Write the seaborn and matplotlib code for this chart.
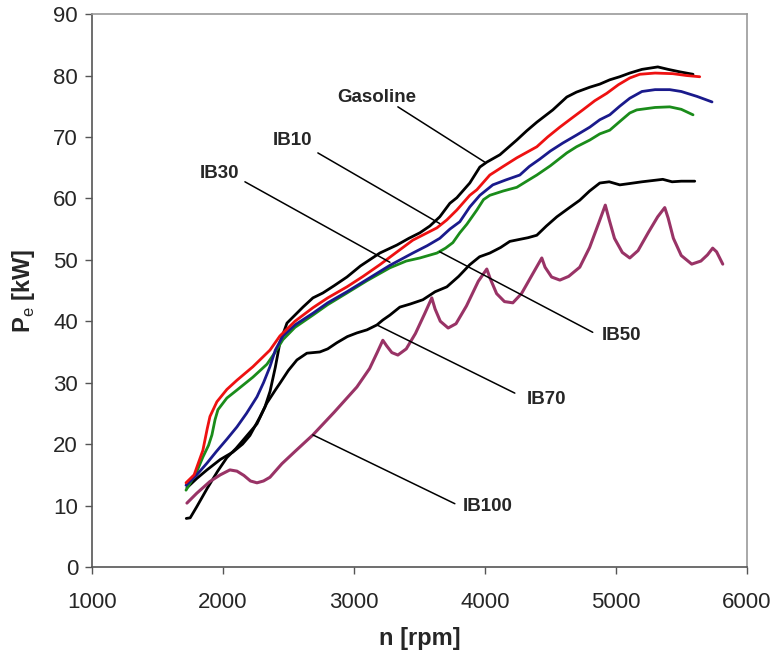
import pandas as pd
import seaborn as sns
import matplotlib.pyplot as plt

# engine speed [rpm] and effective power [kW]
gas_n = [1720, 1750, 1800, 1880, 1960, 2030, 2100, 2180, 2260, 2320, 2360, 2400, 2435, 2489, 2550,
         2611, 2687, 2763, 2850, 2947, 3050, 3198, 3328, 3420, 3504, 3580, 3656, 3733, 3786, 3885,
         3962, 4015, 4115, 4244, 4320, 4397, 4519, 4626, 4700, 4802, 4878, 4954, 5030, 5107, 5200,
         5321, 5400, 5489, 5590]
gas_p = [7.9, 8.0, 9.8, 12.8, 15.6, 17.8, 19.3, 21.3, 23.3, 26.0, 28.6, 32.5, 36.5, 39.7, 41.0,
         42.3, 43.8, 44.6, 45.8, 47.2, 49.0, 51.1, 52.4, 53.5, 54.4, 55.5, 57.0, 59.2, 60.1, 62.5,
         65.1, 65.9, 67.1, 69.5, 71.0, 72.4, 74.4, 76.5, 77.3, 78.1, 78.6, 79.3, 79.8, 80.4, 81.0,
         81.4, 81.0, 80.6, 80.2]

ib10_n = [1718, 1780, 1847, 1880, 1901, 1954, 2030, 2107, 2229, 2359, 2435, 2550, 2687, 2800, 2947,
          3070, 3198, 3330, 3450, 3634, 3710, 3786, 3885, 3939, 4038, 4140, 4244, 4397, 4480, 4573,
          4660, 4748, 4840, 4931, 5020, 5107, 5183, 5300, 5435, 5540, 5641]
ib10_p = [13.7, 15.0, 19.0, 22.5, 24.5, 26.9, 28.9, 30.4, 32.6, 35.3, 37.6, 40.0, 42.2, 43.8, 45.6,
          47.3, 49.2, 51.3, 53.2, 55.2, 56.5, 58.1, 60.5, 61.4, 63.8, 65.2, 66.6, 68.4, 70.0, 71.6,
          73.0, 74.4, 75.9, 77.1, 78.5, 79.6, 80.2, 80.4, 80.3, 80.0, 79.8]

ib30_n = [1718, 1800, 1878, 1950, 2030, 2107, 2180, 2260, 2310, 2359, 2400, 2458, 2550, 2687, 2800,
          2947, 3100, 3275, 3450, 3560, 3656, 3733, 3809, 3885, 3962, 4061, 4160, 4267, 4340, 4420,
          4500, 4595, 4700, 4802, 4878, 4954, 5030, 5107, 5200, 5300, 5412, 5500, 5620, 5735]
ib30_p = [13.3, 15.0, 16.9, 18.8, 20.8, 22.8, 25.0, 27.7, 30.0, 32.6, 35.3, 37.6, 39.4, 41.3, 43.0,
          44.8, 46.8, 49.1, 51.1, 52.3, 53.5, 55.0, 56.2, 58.6, 60.5, 62.2, 63.0, 63.8, 65.2, 66.4,
          67.7, 69.0, 70.3, 71.6, 72.8, 73.6, 75.0, 76.3, 77.4, 77.7, 77.7, 77.4, 76.6, 75.7]

ib50_n = [1718, 1800, 1847, 1890, 1916, 1940, 1962, 2030, 2107, 2229, 2336, 2400, 2458, 2550, 2687,
          2800, 2947, 3100, 3275, 3400, 3504, 3634, 3700, 3756, 3809, 3863, 3939, 3990, 4038, 4140,
          4244, 4320, 4397, 4500, 4626, 4700, 4802, 4878, 4954, 5030, 5107, 5160, 5300, 5412, 5500,
          5590]
ib50_p = [12.5, 15.5, 17.9, 19.8, 21.5, 24.0, 25.6, 27.5, 28.8, 30.9, 33.0, 35.0, 37.0, 39.0, 41.0,
          42.7, 44.6, 46.6, 48.7, 49.8, 50.3, 51.1, 51.9, 52.8, 54.4, 55.8, 58.1, 59.8, 60.5, 61.2,
          61.8, 62.8, 63.8, 65.3, 67.4, 68.4, 69.5, 70.5, 71.1, 72.5, 73.9, 74.4, 74.8, 74.9, 74.5,
          73.6]

ib70_n = [1725, 1800, 1878, 1980, 2076, 2150, 2206, 2280, 2336, 2400, 2435, 2500, 2565, 2641, 2740,
          2800, 2870, 2950, 3023, 3100, 3176, 3221, 3275, 3351, 3430, 3527, 3620, 3710, 3800, 3885,
          3960, 4038, 4120, 4191, 4260, 4330, 4397, 4470, 4550, 4640, 4725, 4800, 4878, 4950, 5031,
          5100, 5200, 5280, 5359, 5430, 5500, 5603]
ib70_p = [12.9, 14.4, 15.8, 17.5, 18.7, 20.0, 21.4, 24.3, 26.7, 28.8, 29.9, 32.0, 33.7, 34.8, 35.0,
          35.5, 36.5, 37.5, 38.1, 38.6, 39.4, 40.2, 41.0, 42.3, 42.8, 43.5, 44.8, 45.6, 47.3, 49.2,
          50.5, 51.1, 52.0, 53.0, 53.3, 53.6, 54.0, 55.5, 57.0, 58.4, 59.7, 61.2, 62.5, 62.7, 62.2,
          62.4, 62.7, 62.9, 63.1, 62.7, 62.8, 62.8]

ib100_n = [1725, 1800, 1900, 1980, 2053, 2107, 2160, 2210, 2260, 2310, 2359, 2450, 2550, 2687, 2850,
           3023, 3120, 3180, 3221, 3250, 3290, 3336, 3400, 3470, 3540, 3595, 3620, 3660, 3720, 3780,
           3860, 3950, 4015, 4040, 4090, 4150, 4214, 4280, 4360, 4435, 4460, 4510, 4573, 4640, 4725,
           4800, 4870, 4920, 4950, 4990, 5050, 5107, 5170, 5250, 5320, 5374, 5400, 5440, 5500, 5580,
           5650, 5700, 5740, 5770, 5817]
ib100_p = [10.4, 12.0, 13.9, 15.0, 15.8, 15.6, 14.9, 14.0, 13.7, 14.0, 14.6, 16.8, 18.8, 21.5, 25.2,
           29.3, 32.3, 35.0, 36.9, 36.0, 34.9, 34.5, 35.5, 38.0, 41.2, 43.8, 42.0, 40.0, 38.9, 39.6,
           42.5, 46.5, 48.5, 47.0, 44.5, 43.2, 43.0, 44.5, 47.5, 50.3, 48.8, 47.2, 46.7, 47.3, 48.8,
           52.0, 56.0, 58.9, 56.5, 53.5, 51.2, 50.3, 51.5, 54.5, 57.0, 58.5, 56.8, 53.5, 50.7, 49.3,
           49.8, 50.8, 51.9, 51.3, 49.3]

# curve labels: text position, leader line start and end (data units)
labels = ['Gasoline', 'IB10', 'IB30', 'IB50', 'IB70', 'IB100']
label_xy = [(3176, 76.5), (2534, 69.5), (1977, 64.0), (5046, 37.6), (4473, 27.3), (4023, 9.9)]
line_from = [(3336, 74.9), (2725, 67.4), (2168, 62.7), (4824, 38.2), (4229, 28.3), (3771, 10.3)]
line_to = [(4000, 65.9), (3656, 55.9), (3275, 49.6), (3656, 51.3), (3176, 39.4), (2687, 21.5)]

series = [
    (gas_n, gas_p, 'black', 2.0),
    (ib70_n, ib70_p, 'black', 2.0),
    (ib100_n, ib100_p, '#993366', 2.2),
    (ib50_n, ib50_p, '#1a8c1a', 2.0),
    (ib30_n, ib30_p, '#1a1a8c', 2.0),
    (ib10_n, ib10_p, '#ee1111', 2.0),
]

sns.set_theme(style='white')
plt.rcParams['font.family'] = ['Liberation Sans', 'DejaVu Sans']
plt.rcParams['mathtext.fontset'] = 'custom'
plt.rcParams['mathtext.rm'] = 'Liberation Sans'

fig = plt.figure(figsize=(7.73, 6.52), dpi=100)
ax = fig.add_axes([0.119, 0.1304, 0.847, 0.848])

for n, p, col, lw in series:
    df = pd.DataFrame({'n': n, 'P': p})
    sns.lineplot(data=df, x='n', y='P', color=col, linewidth=lw, estimator=None, sort=False, ax=ax)

for txt, (tx, ty), (x1, y1), (x2, y2) in zip(labels, label_xy, line_from, line_to):
    ax.plot([x1, x2], [y1, y2], color='black', linewidth=1.1)
    ax.text(tx, ty, txt, fontsize=13.5, fontweight='bold', ha='center', va='center')

ax.set_xlim(1000, 6000)
ax.set_ylim(0, 90)
ax.set_xticks(range(1000, 6001, 1000))
ax.set_yticks(range(0, 91, 10))
ax.tick_params(axis='both', direction='out', length=5, width=1, color='#555555',
               labelsize=16, bottom=True, left=True)
ax.tick_params(axis='x', pad=13)
ax.tick_params(axis='y', pad=5)
for side in ['left', 'bottom']:
    ax.spines[side].set_color('#555555')
for side in ['top', 'right']:
    ax.spines[side].set_color('#999999')
for sp in ax.spines.values():
    sp.set_linewidth(1.2)

ax.set_xlabel('n [rpm]', fontsize=17, fontweight='bold', labelpad=10)
ax.set_ylabel('P$_{\\mathrm{e}}$ [kW]', fontsize=17, fontweight='bold', labelpad=12)

fig.savefig('out.png', dpi=100)
